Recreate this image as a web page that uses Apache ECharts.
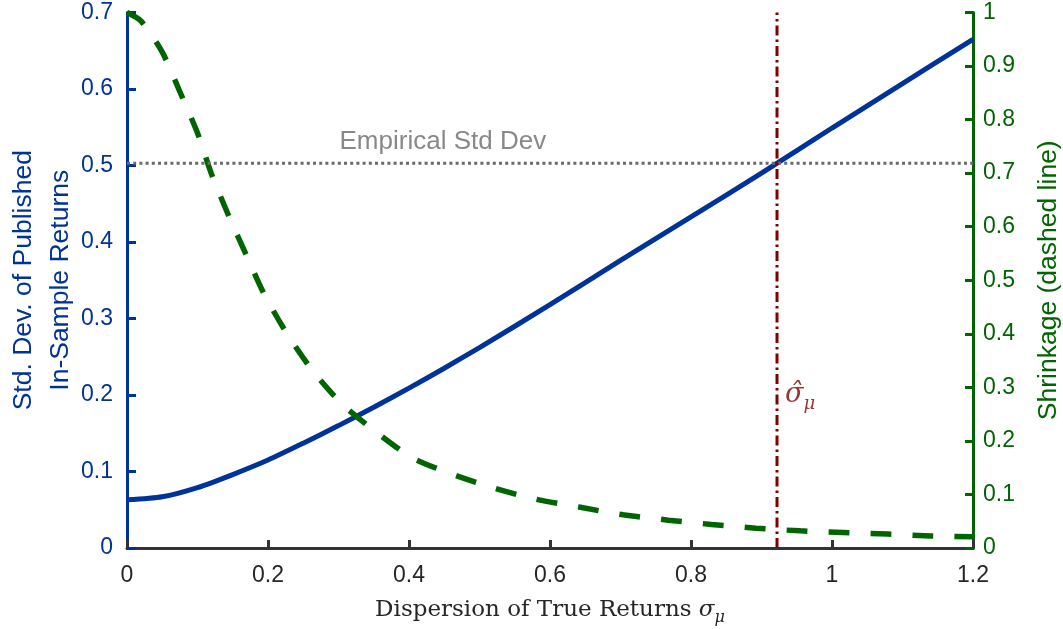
<!DOCTYPE html>
<html>
<head>
<meta charset="utf-8">
<script src="https://cdn.jsdelivr.net/npm/echarts@6/dist/echarts.min.js"></script>
<style>
  html, body { margin: 0; padding: 0; background: #fff; }
  #chart { width: 1063px; height: 629px; }
</style>
</head>
<body>
<div id="chart"></div>
<script>
// Dispersion of true returns (sigma_mu) grid for the std-dev curve
const sigmaGrid = [0, 0.05, 0.1, 0.15, 0.2, 0.25, 0.3, 0.35, 0.4, 0.45, 0.5, 0.6, 0.7, 0.8, 0.9, 1.0, 1.1, 1.2];
// Std. dev. of published in-sample returns (left axis)
const publishedStd = [0.063, 0.067, 0.079, 0.096, 0.115, 0.137, 0.160, 0.184, 0.209, 0.235, 0.262, 0.318, 0.376, 0.433, 0.490, 0.549, 0.607, 0.665];

// Grid for the shrinkage curve
const shrinkGrid = [0, 0.02, 0.05, 0.075, 0.1, 0.12, 0.145, 0.17, 0.195, 0.227, 0.264, 0.305, 0.351, 0.404, 0.461, 0.52, 0.58, 0.643, 0.704, 0.768, 0.829, 0.892, 0.955, 1.016, 1.079, 1.14, 1.2];
// Shrinkage (right axis, dashed)
const shrinkage = [1.0, 0.984, 0.926, 0.852, 0.775, 0.698, 0.618, 0.545, 0.473, 0.40, 0.33, 0.269, 0.219, 0.169, 0.138, 0.112, 0.091, 0.076, 0.062, 0.052, 0.044, 0.037, 0.032, 0.029, 0.026, 0.0225, 0.021];

// Reference levels
const empiricalStd = 0.503;
const sigmaHat = 0.922;
const empiricalLabelAt = 0.448;
const sigmaHatLabelAt = 0.2;

// Axis ranges / tick steps
const xRange = [0, 1.2], xStep = 0.2;
const leftRange = [0, 0.7], leftStep = 0.1;
const rightRange = [0, 1], rightStep = 0.1;

const BLUE = '#003399';
const GREEN = '#006400';
const DARKRED = '#800000';
const GREY = '#6a6a6a';
const INK = '#262626';
const SANS = '"Liberation Sans", Arial, Helvetica, sans-serif';
const SERIF = '"DejaVu Serif", "Liberation Serif", serif';

const chart = echarts.init(document.getElementById('chart'), null, { renderer: 'canvas' });

chart.setOption({
  animation: false,
  backgroundColor: '#fff',
  grid: { left: 127, right: 90, top: 12.5, bottom: 81, containLabel: false, outerBoundsMode: 'none' },
  xAxis: {
    type: 'value', min: xRange[0], max: xRange[1], interval: xStep,
    axisLine: { show: true, onZero: false, lineStyle: { color: '#333', width: 3 } },
    axisTick: { show: true, inside: true, length: 8, lineStyle: { color: '#333', width: 3 } },
    axisLabel: { color: INK, fontSize: 23, fontFamily: SANS, margin: 16 },
    splitLine: { show: false },
    name: 'Dispersion of True Returns {s|σ}{sub|μ}',
    nameLocation: 'middle', nameGap: 46, nameMoveOverlap: false,
    nameTextStyle: {
      color: INK, fontSize: 23, fontFamily: SERIF, lineHeight: 32,
      rich: {
        s: { fontFamily: SERIF, fontStyle: 'italic', fontSize: 23, color: INK, lineHeight: 32, verticalAlign: 'middle' },
        sub: { fontFamily: SERIF, fontStyle: 'italic', fontSize: 16, color: INK, lineHeight: 32, verticalAlign: 'bottom' }
      }
    }
  },
  yAxis: [
    {
      type: 'value', position: 'left', min: leftRange[0], max: leftRange[1], interval: leftStep,
      axisLine: { show: true, lineStyle: { color: BLUE, width: 3 } },
      axisTick: { show: true, inside: true, length: 9, lineStyle: { color: BLUE, width: 3 } },
      axisLabel: { color: BLUE, fontSize: 23, fontFamily: SANS, margin: 14 },
      splitLine: { show: false },
      name: 'Std. Dev. of Published\nIn-Sample Returns',
      nameLocation: 'middle', nameGap: 48, nameRotate: 90, nameMoveOverlap: false,
      nameTextStyle: { color: BLUE, fontSize: 26.5, fontFamily: SANS, lineHeight: 37 }
    },
    {
      type: 'value', position: 'right', min: rightRange[0], max: rightRange[1], interval: rightStep,
      axisLine: { show: true, lineStyle: { color: GREEN, width: 3 } },
      axisTick: { show: true, inside: true, length: 8, lineStyle: { color: GREEN, width: 3 } },
      axisLabel: { color: GREEN, fontSize: 23, fontFamily: SANS, margin: 10 },
      splitLine: { show: false },
      name: 'Shrinkage (dashed line)',
      nameLocation: 'middle', nameGap: 62, nameRotate: 90, nameMoveOverlap: false,
      nameTextStyle: { color: GREEN, fontSize: 26.5, fontFamily: SANS }
    }
  ],
  series: [
    {
      name: 'Published std', type: 'line', yAxisIndex: 0,
      data: sigmaGrid.map((s, i) => [s, publishedStd[i]]),
      showSymbol: false, smooth: 0.25,
      lineStyle: { color: BLUE, width: 5 }, z: 3
    },
    {
      name: 'Shrinkage', type: 'line', yAxisIndex: 1,
      data: shrinkGrid.map((s, i) => [s, shrinkage[i]]),
      showSymbol: false, smooth: 0.25,
      lineStyle: { color: GREEN, width: 5.5, type: [21, 21], cap: 'butt' }, z: 3
    },
    {
      name: 'Empirical std', type: 'line', yAxisIndex: 0,
      data: [[xRange[0], empiricalStd], [xRange[1], empiricalStd]],
      showSymbol: false,
      lineStyle: { color: GREY, width: 3, type: [3, 3.2], cap: 'butt' }, z: 4
    },
    {
      name: 'Sigma hat', type: 'line', yAxisIndex: 0,
      data: [[sigmaHat, leftRange[0]], [sigmaHat, leftRange[1]]],
      showSymbol: false,
      lineStyle: { color: DARKRED, width: 3, type: [10, 4, 2.5, 4], cap: 'butt' }, z: 5
    },
    {
      name: 'Labels', type: 'scatter', yAxisIndex: 0, silent: true,
      symbolSize: 0,
      data: [
        {
          value: [empiricalLabelAt, empiricalStd],
          label: {
            show: true, position: 'top', distance: 8,
            formatter: 'Empirical Std Dev',
            color: GREY, fontSize: 26, fontFamily: SANS
          }
        },
        {
          value: [sigmaHat, sigmaHatLabelAt],
          label: {
            show: true, position: 'right', distance: 8,
            formatter: '{s|σ\u0302}{sub|μ}',
            rich: {
              s: { fontFamily: SERIF, fontStyle: 'italic', fontSize: 27, color: DARKRED, lineHeight: 36, verticalAlign: 'middle' },
              sub: { fontFamily: SERIF, fontStyle: 'italic', fontSize: 18, color: DARKRED, lineHeight: 36, verticalAlign: 'bottom' }
            }
          }
        }
      ],
      z: 6
    }
  ]
});
</script>
</body>
</html>
